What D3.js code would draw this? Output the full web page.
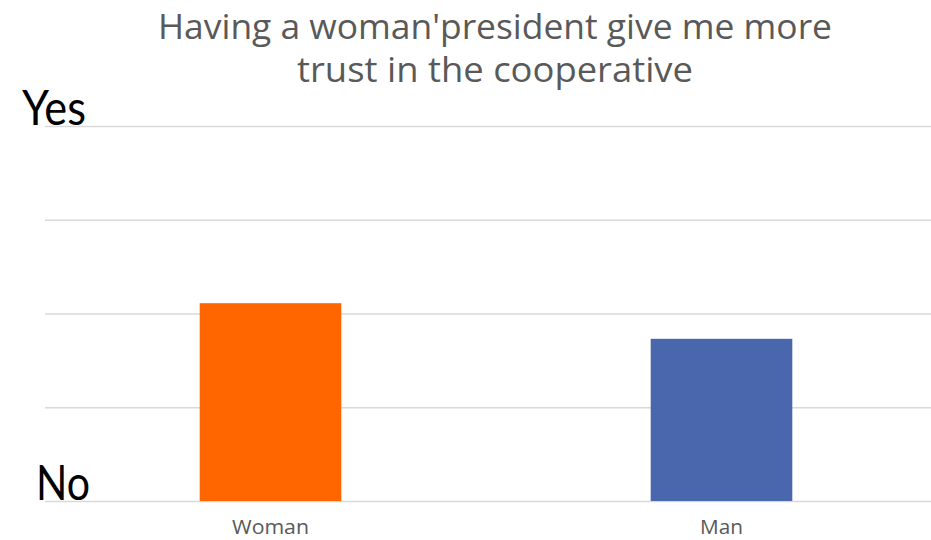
<!DOCTYPE html>
<html>
<head>
<meta charset="utf-8">
<script src="https://cdn.jsdelivr.net/npm/d3@7"></script>
<style>
  html, body { margin: 0; padding: 0; background: #ffffff; }
  svg { display: block; }
</style>
</head>
<body>
<svg id="chart" width="931" height="540"></svg>
<script>
// Survey answers, averaged on a scale from "No" (0) to "Yes" (4)
const categories = ["Woman", "Man"];
const values = [2.11, 1.73];
const barColors = ["#FF6600", "#4A66AC"];
const gridTicks = [0, 1, 2, 3, 4];
const endLabels = [{ v: 4, text: "Yes" }, { v: 0, text: "No" }];
const titleLines = ["Having a woman'president give me more", "trust in the cooperative"];

const svg = d3.select("#chart");
const W = 931, H = 540;
const plot = { left: 45, right: 947, top: 126, bottom: 501 };
const sans = "'Open Sans', 'DejaVu Sans', sans-serif";

const x = d3.scaleBand()
  .domain(categories)
  .range([plot.left, plot.right])
  .paddingInner(0.686)
  .paddingOuter(0.343);

const y = d3.scaleLinear()
  .domain([0, 4])
  .range([plot.bottom, plot.top]);

// Horizontal gridlines
const gridAxis = d3.axisLeft(y)
  .tickValues(gridTicks)
  .tickSize(-(W - plot.left))
  .tickFormat("");
const grid = svg.append("g")
  .attr("transform", `translate(${plot.left},0)`)
  .call(gridAxis);
grid.select(".domain").remove();
grid.selectAll(".tick line")
  .attr("stroke", "#d9d9d9")
  .attr("stroke-width", 1.6);

// Bars
svg.append("g").selectAll("rect")
  .data(categories)
  .join("rect")
  .attr("x", d => x(d))
  .attr("width", x.bandwidth())
  .attr("y", (d, i) => y(values[i]))
  .attr("height", (d, i) => y(0) - y(values[i]))
  .attr("fill", (d, i) => barColors[i]);

// Category axis labels (narrow face emulated by horizontal compression)
const labelWidths = { Woman: 77, Man: 43 };
const xAxis = d3.axisBottom(x).tickSize(0).tickPadding(0);
const xg = svg.append("g")
  .attr("transform", `translate(0,${plot.bottom})`)
  .call(xAxis);
xg.select(".domain").remove();
xg.selectAll(".tick text")
  .attr("dy", null)
  .attr("y", 33)
  .attr("fill", "#595959")
  .attr("textLength", d => labelWidths[d])
  .attr("lengthAdjust", "spacingAndGlyphs")
  .style("font-family", sans)
  .style("font-size", "20px");

// "Yes" / "No" end labels
svg.append("g").selectAll("text")
  .data(endLabels)
  .join("text")
  .attr("x", d => d.v === 4 ? 22 : 36)
  .attr("y", d => y(d.v) - 1)
  .attr("fill", "#000000")
  .attr("textLength", d => d.v === 4 ? 64 : 54)
  .attr("lengthAdjust", "spacingAndGlyphs")
  .style("font-family", "Lato, 'Open Sans', sans-serif")
  .style("font-size", "48px")
  .text(d => d.text);

// Title, two centered lines
const titleWidths = [674, 396];
svg.append("g").selectAll("text")
  .data(titleLines)
  .join("text")
  .attr("x", 495)
  .attr("y", (d, i) => 39 + i * 43)
  .attr("text-anchor", "middle")
  .attr("fill", "#595959")
  .attr("textLength", (d, i) => titleWidths[i])
  .attr("lengthAdjust", "spacingAndGlyphs")
  .style("font-family", sans)
  .style("font-size", "35px")
  .text(d => d);
</script>
</body>
</html>
